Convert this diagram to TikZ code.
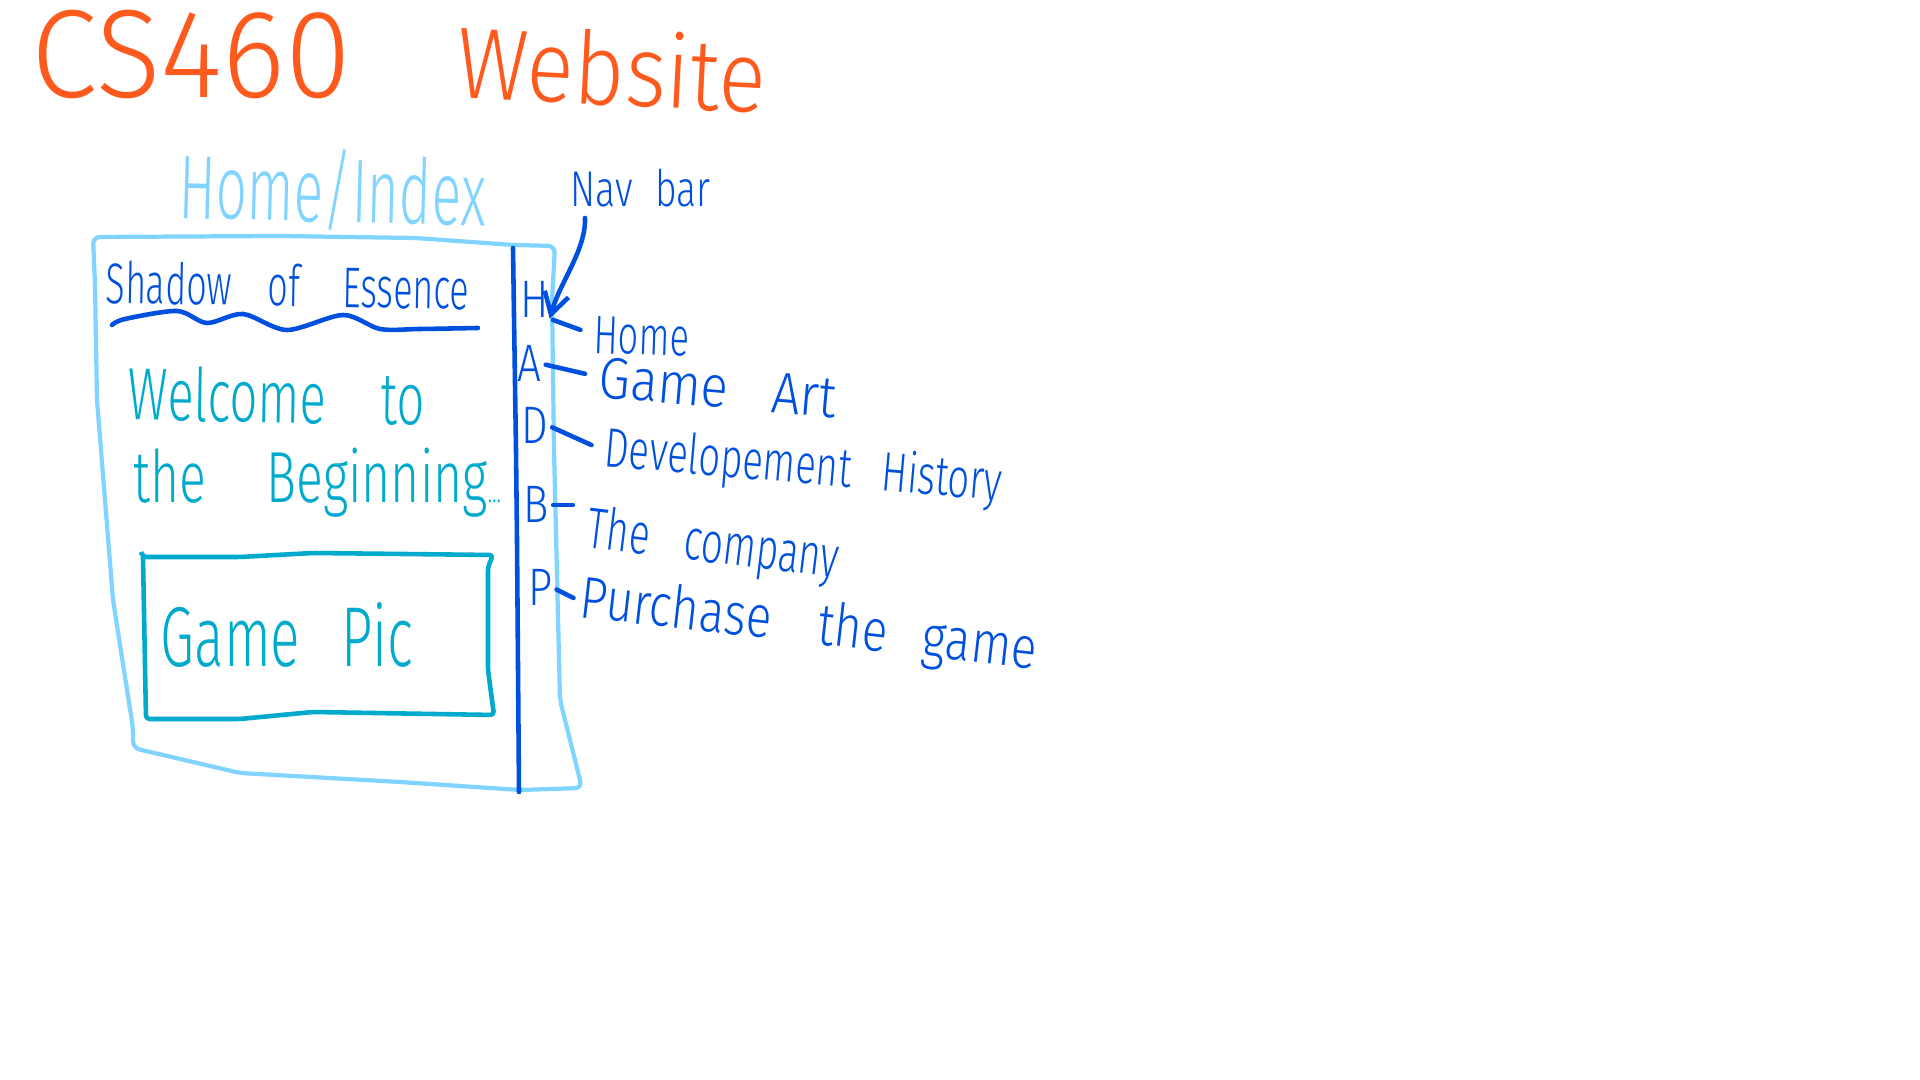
\documentclass[tikz,border=0pt]{standalone}
\usepackage{fontspec}
\setmainfont{Fira Sans}[UprightFont=* Light]
\usetikzlibrary{arrows.meta}
\definecolor{titleorange}{HTML}{FF5A1E}
\definecolor{pageblue}{HTML}{80D4FF}
\definecolor{navblue}{HTML}{0050E0}
\definecolor{picteal}{HTML}{00AACD}
\newcommand{\tall}[2][1.5]{\scalebox{1}[#1]{#2}}
\newcommand{\fsz}[1]{\fontsize{#1}{#1}\selectfont}

\begin{document}
\begin{tikzpicture}[x=0.01cm,y=-0.01cm,
  hand/.style={inner sep=0pt,anchor=base west},
  pageline/.style={pageblue,line width=1.2pt,line join=round,line cap=round,rounded corners=2pt},
  navline/.style={navblue,line width=1.3pt,line cap=round},
  picline/.style={picteal,line width=1.3pt,line join=round,rounded corners=1pt}]
\useasboundingbox[fill=white] (0,0) rectangle (1920,1080);
% title
\node[hand,titleorange,font=\fsz{34pt}] (cs) at (31,98) {\tall[1.05]{CS460}};
\node[hand,titleorange,font=\fsz{25pt},rotate=-3] (web) at (455,97) {\tall[1.15]{Website}};
% page outline and nav bar
\node[hand,pageblue,font=\fsz{15.6pt},rotate=-1.5] (pagename) at (178,218) {\tall[1.65]{Home/Index}};
\draw[pageline] (95,285) -- (93,237) -- (280,236) -- (415,238) -- (513,245) -- (555,246) -- (552,300) -- (554,450) -- (560,700) -- (582,788) -- (520,790) -- (400,782) -- (240,773) -- (133,748) -- (133,728) -- (113,600) -- (97,400) -- cycle;
\draw[navline] (513,248) -- (516,450) -- (517,540) -- (519,792);
% page content
\node[hand,navblue,font=\fsz{10.2pt},rotate=-1] (gametitle) at (105,303) {\tall[1.6]{Shadow\hspace{1em}of\hspace{1.2em}Essence}};
\draw[navline] plot[smooth] coordinates {(112,325) (125,319) (177,311) (207,323) (243,314) (287,330) (343,315) (380,329) (420,329) (478,328)};
\node[hand,picteal,font=\fsz{14pt},rotate=-1] (welcome) at (127,420) {\tall[1.5]{Welcome\hspace{1.1em}to}};
\node[hand,picteal,font=\fsz{14.2pt}] (begin) at (133,503) {\tall[1.45]{the\hspace{1.2em}Beginning{\fsz{6pt}...}}};
\draw[picline] (141,552) -- (143,557) -- (240,557) -- (313,553) -- (493,555) -- (488,567) -- (488,670) -- (494,715) -- (313,712) -- (240,719) -- (146,719) -- (143,557);
\node[hand,picteal,font=\fsz{15.6pt}] (gamepic) at (160,667) {\tall[1.55]{Game\hspace{0.75em}Pic}};
% nav letters
\foreach \l/\x/\y in {H/520/318,A/517/382,D/521/444,B/523/523,P/528/606}
  \node[hand,navblue,font=\fsz{12pt}] (nav\l) at (\x,\y) {\tall[1.25]{\l}};
% nav labels
\node[hand,navblue,font=\fsz{10.3pt},rotate=-2] (lblHome) at (593,353) {\tall[1.5]{Home}};
\node[hand,navblue,font=\fsz{14.5pt},rotate=-5] (lblArt) at (597,397) {\tall[1.15]{Game\hspace{0.85em}Art}};
\node[hand,navblue,font=\fsz{10.9pt},rotate=-5] (lblHistory) at (603,466) {\tall[1.45]{Developement\hspace{0.8em}History}};
\node[hand,navblue,font=\fsz{11pt},rotate=-7] (lblCompany) at (585,547) {\tall[1.5]{The\hspace{0.9em}company}};
\node[hand,navblue,font=\fsz{13.5pt},rotate=-6.5] (lblPurchase) at (578,617) {\tall[1.25]{Purchase\hspace{1em}the\hspace{0.75em}game}};
\draw[navline,shorten <=1pt,shorten >=4pt] (navH.south east) -- (lblHome.west);
\draw[navline,shorten <=1pt,shorten >=4pt] (navA.east) -- (lblArt.west);
\draw[navline,shorten <=1pt,shorten >=4pt] (navD.east) -- (lblHistory.west);
\draw[navline,shorten <=1pt,shorten >=4pt] (navB.east) -- (navB.east -| lblCompany.west);
\draw[navline,shorten <=1pt,shorten >=2pt] (navP.east) -- (lblPurchase.west);
% nav bar note
\node[hand,navblue,font=\fsz{10.6pt}] (navlbl) at (570,207) {\tall[1.35]{Nav\hspace{0.6em}bar}};
\coordinate (navtail) at (585,218);
\draw[navline,-{Straight Barb[length=6pt,width=7pt]}] (navtail) .. controls (586,250) and (560,282) .. (navH.south east);
\end{tikzpicture}
\end{document}
